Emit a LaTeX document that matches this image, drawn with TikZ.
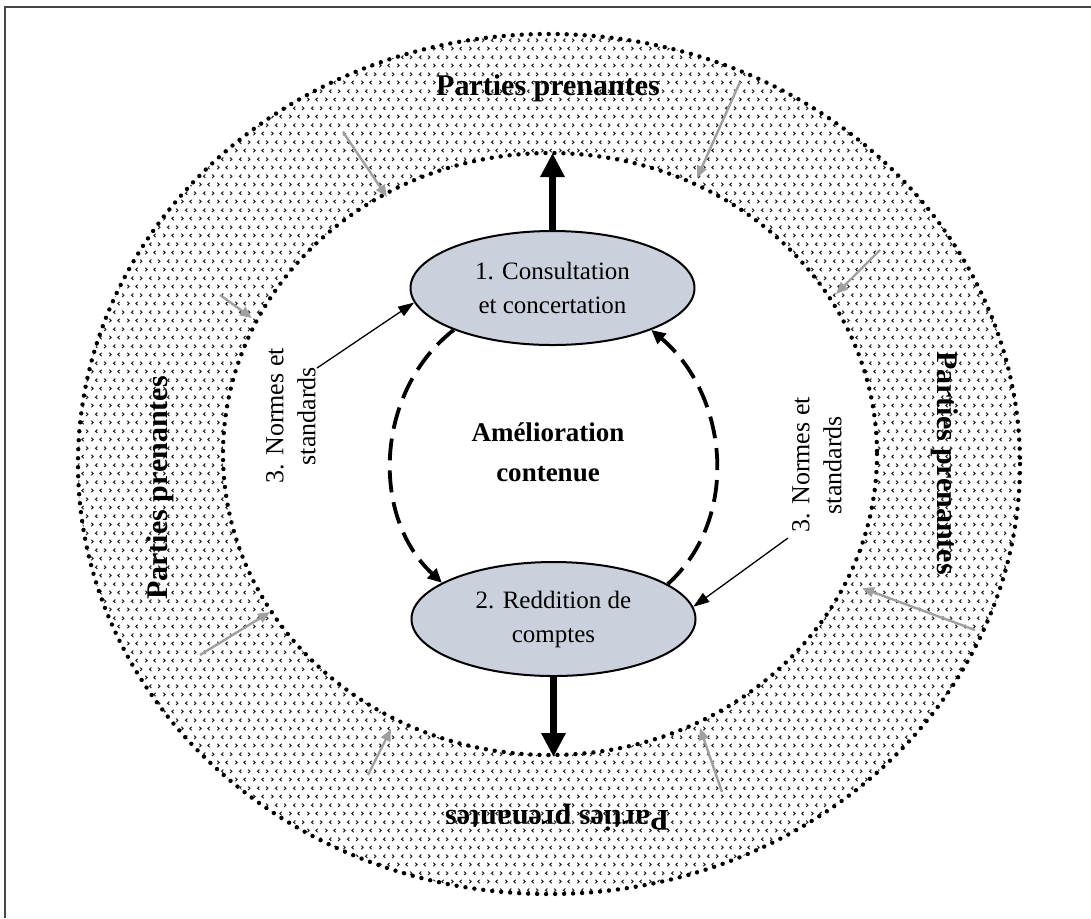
\documentclass[tikz,border=0pt]{standalone}
\usepackage{fontspec}
\setmainfont{Liberation Serif}
\usetikzlibrary{arrows.meta,patterns,shapes.geometric}

\definecolor{bubble}{RGB}{203,208,221}
\definecolor{faint}{RGB}{160,160,160}
\definecolor{framegray}{RGB}{70,70,70}

% small alternating > < marks used to shade the stakeholder ring
\pgfdeclarepatternformonly{chevrons}{\pgfqpoint{0pt}{0pt}}{\pgfqpoint{9pt}{8.6pt}}{\pgfqpoint{9pt}{8.6pt}}{%
  \pgfsetlinewidth{0.55pt}%
  \pgfpathmoveto{\pgfqpoint{0.7pt}{2.2pt}}\pgfpathlineto{\pgfqpoint{1.7pt}{1.3pt}}\pgfpathlineto{\pgfqpoint{0.7pt}{0.4pt}}%
  \pgfpathmoveto{\pgfqpoint{6.2pt}{2.2pt}}\pgfpathlineto{\pgfqpoint{5.2pt}{1.3pt}}\pgfpathlineto{\pgfqpoint{6.2pt}{0.4pt}}%
  \pgfpathmoveto{\pgfqpoint{3.9pt}{6.5pt}}\pgfpathlineto{\pgfqpoint{2.9pt}{5.6pt}}\pgfpathlineto{\pgfqpoint{3.9pt}{4.7pt}}%
  \pgfpathmoveto{\pgfqpoint{7.4pt}{6.5pt}}\pgfpathlineto{\pgfqpoint{8.4pt}{5.6pt}}\pgfpathlineto{\pgfqpoint{7.4pt}{4.7pt}}%
  \pgfusepath{stroke}%
}

\begin{document}
\begin{tikzpicture}[x=0.5pt,y=-0.5pt,
  ringline/.style={line width=2.2pt,dash pattern=on 0pt off 4.5pt,line cap=round},
  stage/.style={ellipse,draw,line width=1pt,fill=bubble,minimum width=142pt,
    minimum height=57pt,inner sep=0pt,align=center,font=\fontsize{12.5}{17}\selectfont},
  party/.style={inner sep=0pt,font=\bfseries\fontsize{15}{18}\selectfont},
  normlabel/.style={inner sep=0pt,align=center,rotate=90,font=\fontsize{13}{16}\selectfont},
  bigarrow/.style={line width=3.3pt,-{Triangle[length=12pt,width=11.5pt]}},
  cyclearc/.style={line width=1.9pt,dash pattern=on 11pt off 5pt,-{Triangle[length=7pt,width=6.5pt]}},
  note/.style={line width=0.65pt,-{Triangle[length=8pt,width=5.5pt]}},
  haze/.style={draw=faint,line width=1.2pt,-{Triangle[length=6pt,width=5pt]}}]

\useasboundingbox (0,0) rectangle (1091,918);

% page frame
\draw[framegray,line width=0.8pt] (5,918) -- (5,7) -- (1091,7);

% shaded ring of stakeholders
\fill[pattern=chevrons,pattern color=black!85,even odd rule]
  (549,464) ellipse [x radius=471,y radius=430]
  (550,454) ellipse [x radius=327,y radius=301];
\draw[ringline] (549,464) ellipse [x radius=471,y radius=430];
\draw[ringline] (550,454) ellipse [x radius=327,y radius=301];

% ring labels
\node[party] (ptop) at (548,88) {Parties prenantes};
\node[party,rotate=180] (pbot) at (557,818) {Parties prenantes};
\node[party,rotate=90] (pleft) at (160,488) {Parties prenantes};
\node[party,rotate=-90] (pright) at (945,463) {Parties prenantes};

% the two stages
\node[stage] (c1) at (552.5,288) {1. Consultation\\et concertation};
\node[stage] (c2) at (553.5,619) {2. Reddition de\\comptes};

\node[inner sep=0pt,align=center,font=\bfseries\fontsize{13.5}{20}\selectfont]
  (gain) at (548,452) {Amélioration\\contenue};

% improvement cycle
\draw[cyclearc] (c1.203) to[out=218,in=137] (c2.162);
\draw[cyclearc] (c2.17) to[out=42,in=320] (c1.337);

% links to the stakeholder ring
\coordinate (topend) at (552.5,153);
\coordinate (botend) at (553.5,757);
\draw[bigarrow] (c1.north) -- (topend);
\draw[bigarrow] (c2.south) -- (botend);

% norms and standards
\node[normlabel] (nleft) at (291,416) {3. Normes et\\standards};
\node[normlabel] (nright) at (817,465) {3. Normes et\\standards};
\coordinate (nlfoot) at (317,368);
\coordinate (nrfoot) at (788,538);
\draw[note] (nlfoot) -- (c1.186);
\draw[note] (nrfoot) -- (c2.5);

% faint pressures from the stakeholders
\coordinate (h1a) at (343,132); \coordinate (h1b) at (387,197);
\coordinate (h2a) at (220,295); \coordinate (h2b) at (252,318);
\coordinate (h3a) at (740,82);  \coordinate (h3b) at (697,178);
\coordinate (h4a) at (880,250); \coordinate (h4b) at (836,294);
\coordinate (h5a) at (975,630); \coordinate (h5b) at (862,588);
\coordinate (h6a) at (200,655); \coordinate (h6b) at (270,612);
\coordinate (h7a) at (368,775); \coordinate (h7b) at (391,729);
\coordinate (h8a) at (722,792); \coordinate (h8b) at (700,728);
\foreach \k in {1,...,8} {\draw[haze] (h\k a) -- (h\k b);}

\end{tikzpicture}
\end{document}
